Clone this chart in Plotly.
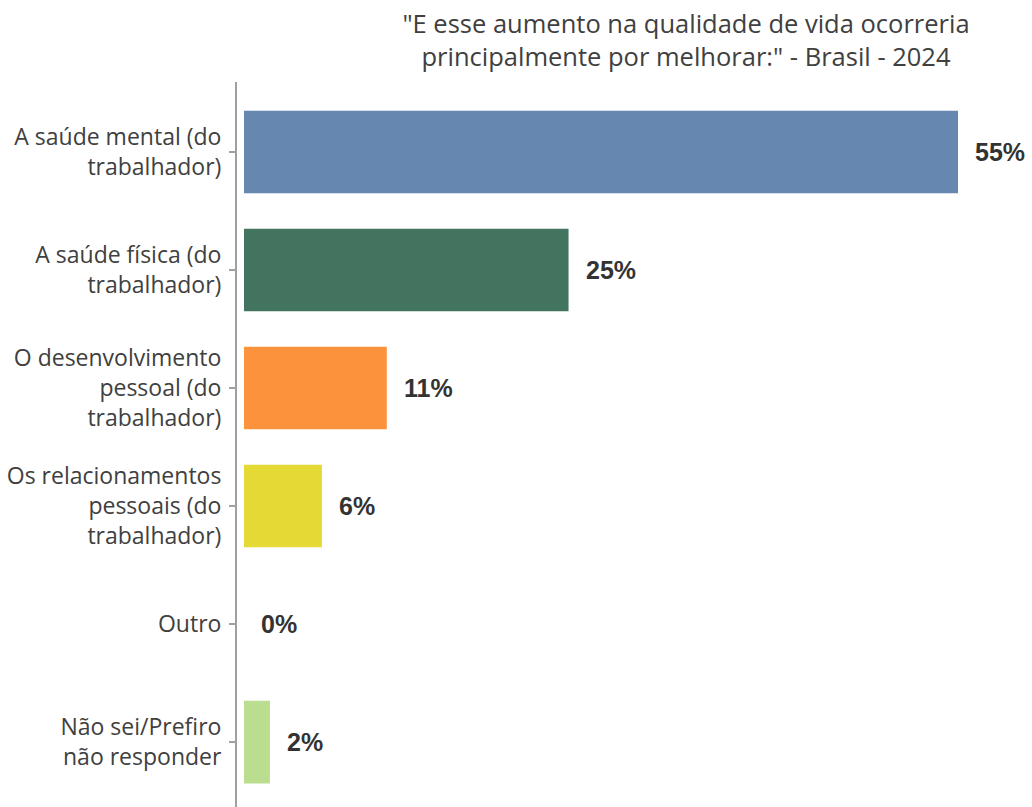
import plotly.graph_objects as go

categories = [
    "A saúde mental (do<br>trabalhador)",
    "A saúde física (do<br>trabalhador)",
    "O desenvolvimento<br>pessoal (do<br>trabalhador)",
    "Os relacionamentos<br>pessoais (do<br>trabalhador)",
    "Outro",
    "Não sei/Prefiro<br>não responder",
]
values = [55, 25, 11, 6, 0, 2]
labels = ["55%", "25%", "11%", "6%", "0%", "2%"]
colors = ["#6688b0", "#437460", "#fd923c", "#e4d935", "#ffffff", "#badd90"]

title_text = "\"E esse aumento na qualidade de vida ocorreria<br>principalmente por melhorar:\" - Brasil - 2024"

fig = go.Figure()
fig.add_trace(go.Bar(
    x=values, y=categories, orientation="h",
    marker=dict(color=colors, line=dict(width=0)),
    width=0.7, showlegend=False, hoverinfo="skip",
))

for cat, v, lab in zip(categories, values, labels):
    fig.add_annotation(
        x=v, y=cat, text="<b>" + lab + "</b>", showarrow=False,
        xanchor="left", xshift=15, yanchor="middle",
        font=dict(family="Liberation Sans, Arial", size=25, color="#333333"),
    )

fig.update_layout(
    width=1032, height=807,
    margin=dict(l=237, r=0, t=82, b=0),
    plot_bgcolor="white", paper_bgcolor="white",
    title=dict(
        text=title_text, x=686 / 1032, xanchor="center", xref="container",
        y=1 - 33 / 807, yanchor="middle", yref="container",
        font=dict(family="Open Sans", size=25.5, color="#404040"),
    ),
    xaxis=dict(range=[-0.539, 60.7], visible=False, showgrid=False, zeroline=False),
    yaxis=dict(
        range=[5.55, -0.593], showgrid=False, zeroline=False,
        showline=True, linecolor="#a0a0a0", linewidth=2,
        ticks="outside", ticklen=6, tickwidth=2, tickcolor="#a0a0a0",
        tickfont=dict(family="Open Sans", size=23, color="#404040"),
        ticklabelstandoff=3,
    ),
)

fig.write_html(
    "out.html",
    config={"displayModeBar": False},
    post_script="document.body.style.margin='0';document.body.style.overflow='hidden';",
)
